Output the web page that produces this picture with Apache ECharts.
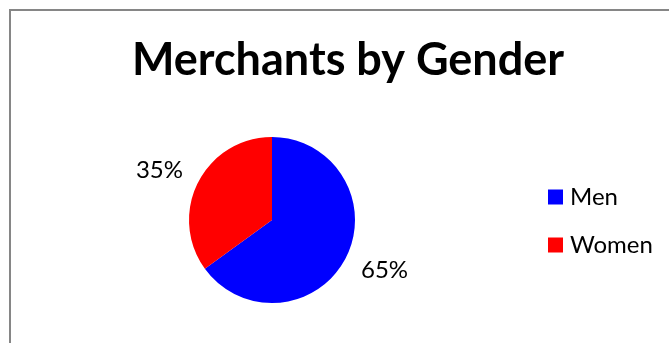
<!DOCTYPE html>
<html>
<head>
<meta charset="utf-8">
<script src="https://cdn.jsdelivr.net/npm/echarts@6/dist/echarts.min.js"></script>
<style>
  html, body { margin: 0; padding: 0; background: #ffffff; }
  #chart { width: 669px; height: 343px; }
</style>
</head>
<body>
<div id="chart"></div>
<script>
// Merchant counts by gender, in percent of the total
const categories = ['Men', 'Women'];
const shares = [65, 35];
const sliceColors = ['#0000ff', '#ff0000'];

const chart = echarts.init(document.getElementById('chart'), null, { renderer: 'canvas' });

const FONT = 'Lato, "Liberation Sans", sans-serif';

chart.setOption({
  animation: false,
  backgroundColor: '#ffffff',
  color: sliceColors,
  title: {
    text: 'Merchants by Gender',
    left: 343,
    textAlign: 'center',
    top: 33,
    textStyle: {
      fontFamily: FONT,
      fontWeight: 'bold',
      fontSize: 45,
      color: '#000000'
    }
  },
  legend: {
    orient: 'vertical',
    left: 543,
    top: 180,
    itemWidth: 15,
    itemHeight: 15,
    itemGap: 24,
    icon: 'rect',
    data: categories,
    textStyle: {
      fontFamily: FONT,
      fontSize: 24,
      color: '#000000',
      padding: [0, 0, 0, 2]
    }
  },
  graphic: [
    {
      type: 'rect',
      silent: true,
      shape: { x: 10, y: 10, width: 700, height: 400 },
      style: { fill: 'none', stroke: '#868686', lineWidth: 2 }
    }
  ],
  series: [
    {
      type: 'pie',
      center: [272, 220],
      radius: 83,
      startAngle: 90,
      clockwise: true,
      avoidLabelOverlap: false,
      label: {
        show: true,
        position: 'outside',
        formatter: '{c}%',
        fontFamily: FONT,
        fontSize: 24,
        color: '#000000',
        distanceToLabelLine: -9
      },
      labelLine: { show: false, length: 27, length2: 0 },
      emphasis: { disabled: true },
      data: categories.map((name, i) => ({ name, value: shares[i] }))
    }
  ]
});
</script>
</body>
</html>
